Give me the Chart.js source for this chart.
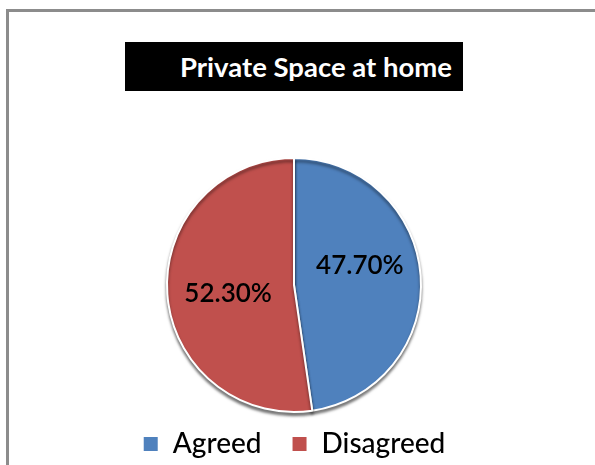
<!DOCTYPE html>
<html>
<head>
<meta charset="utf-8">
<script src="https://cdn.jsdelivr.net/npm/chart.js@4"></script>
<style>
  html, body { margin: 0; padding: 0; background: #fff; }
  #wrap { position: relative; width: 595px; height: 465px; overflow: hidden; background: #fff; }
  #frame {
    position: absolute; left: 6px; top: 9px; width: 700px; height: 600px;
    border-left: 3px solid #8c8c8c; border-top: 3px solid #8c8c8c;
  }
  #title {
    position: absolute; left: 125px; top: 42px; width: 338px; height: 49px;
    background: #000; color: #fff; box-sizing: border-box; padding-right: 11px;
    font: bold 27.5px Lato, "Open Sans", sans-serif; line-height: 49px; text-align: right;
  }
  #pieChart { position: absolute; left: 0; top: 0; }
</style>
</head>
<body>
<div id="wrap">
  <div id="frame"></div>
  <div id="title">Private Space at home</div>
  <canvas id="pieChart" width="595" height="465"></canvas>
</div>
<script>
// answers to "private space at home", in percent
const labels = ['Agreed', 'Disagreed'];
const shares = [47.7, 52.3];
const colors = ['#4F81BD', '#C0504D'];

// soft drop shadow under the slices
const pieShadow = {
  id: 'pieShadow',
  beforeDatasetsDraw(chart) {
    const ctx = chart.ctx;
    ctx.save();
    ctx.shadowColor = 'rgba(0,0,0,0.5)';
    ctx.shadowBlur = 3;
    ctx.shadowOffsetY = 3;
  },
  afterDatasetsDraw(chart) {
    chart.ctx.restore();
  }
};

// percentage text inside each slice
const sliceLabels = {
  id: 'sliceLabels',
  afterDraw(chart, args, opts) {
    const ctx = chart.ctx;
    const meta = chart.getDatasetMeta(0);
    ctx.save();
    ctx.font = opts.font;
    ctx.fillStyle = opts.color;
    ctx.textAlign = 'center';
    ctx.textBaseline = 'middle';
    meta.data.forEach((arc, i) => {
      const p = arc.getProps(['x', 'y', 'startAngle', 'endAngle', 'outerRadius'], true);
      const mid = (p.startAngle + p.endAngle) / 2;
      const r = p.outerRadius * opts.offset;
      const tx = p.x + Math.cos(mid) * r;
      const ty = p.y + Math.sin(mid) * r + (opts.nudgeY[i] || 0);
      ctx.fillText(shares[i].toFixed(2) + '%', tx, ty);
    });
    ctx.restore();
  }
};

new Chart(document.getElementById('pieChart'), {
  type: 'pie',
  data: {
    labels: labels,
    datasets: [{
      data: shares,
      backgroundColor: colors,
      borderColor: '#fff',
      borderWidth: 2,
      radius: 127
    }]
  },
  options: {
    responsive: false,
    animation: false,
    layout: { padding: { top: 170, left: 0, right: 7, bottom: -3 } },
    plugins: {
      legend: {
        position: 'bottom',
        labels: {
          color: '#000',
          boxWidth: 16,
          boxHeight: 16,
          padding: 30,
          font: { family: 'Lato', size: 28, weight: 500 }
        }
      },
      tooltip: { enabled: false },
      sliceLabels: { font: '600 26px Lato', color: '#000', offset: 0.52, nudgeY: [-15, 4] }
    }
  },
  plugins: [pieShadow, sliceLabels]
});
</script>
</body>
</html>
